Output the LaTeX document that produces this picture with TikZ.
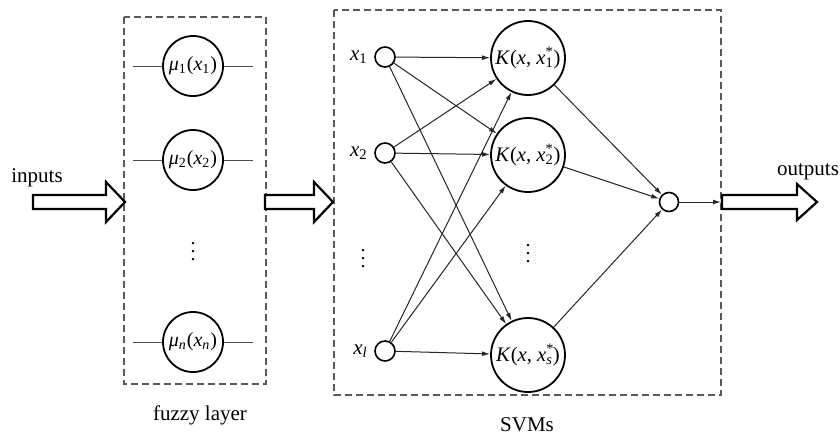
\documentclass[tikz,border=0pt]{standalone}
\usepackage{fontspec}
\setmainfont{Liberation Serif}
\usetikzlibrary{arrows.meta,positioning}
\newcommand{\xsup}[2]{\textit{x}\makebox[0pt][l]{\textsuperscript{#1}}\textsubscript{#2}}
\tikzset{
  px/.style={x=0.5pt,y=-0.5pt},
  layerbox/.style={draw=black!65,dashed,dash pattern=on 3.5pt off 2pt,line width=0.55pt},
  fuzzynode/.style={circle,draw,fill=white,line width=0.9pt,minimum size=30pt,inner sep=0pt,font=\fontsize{10}{12}\selectfont},
  kernelnode/.style={circle,draw,fill=white,line width=0.9pt,minimum size=37pt,inner sep=0pt,font=\fontsize{10.3}{12}\selectfont},
  inputnode/.style={circle,draw,fill=white,line width=0.8pt,minimum size=10pt,inner sep=0pt},
  sumnode/.style={circle,draw,fill=white,line width=0.8pt,minimum size=9.5pt,inner sep=0pt},
  wire/.style={draw=black!70,line width=0.5pt},
  link/.style={draw=black!85,line width=0.5pt,-{Latex[length=4pt,width=2.4pt]}},
  caption/.style={font=\fontsize{10.5}{12}\selectfont,inner sep=0pt},
  vdots/.style={font=\fontsize{10}{12}\selectfont,inner sep=0pt},
  bigarrow/.style={draw,line width=1.1pt,fill=white,line join=miter},
}
\begin{document}
\begin{tikzpicture}[px]
\useasboundingbox (0,0) rectangle (840,435);

% layer frames
\draw[layerbox] (124,17) rectangle (266,384);
\draw[layerbox] (334,10) rectangle (721,395);

% fuzzy layer
\foreach \y in {66,160,342} \draw[wire] (133,\y) -- (253,\y);
\node[fuzzynode] (m1) at (193,66) {\textit{μ}\textsubscript{1}(\textit{x}\textsubscript{1})};
\node[fuzzynode] (m2) at (193,160) {\textit{μ}\textsubscript{2}(\textit{x}\textsubscript{2})};
\node[fuzzynode] (mn) at (193,342) {\textit{μ\textsubscript{n}}(\textit{x\textsubscript{n}})};
\node[vdots] (mdots) at (193,246) {$\vdots$};
\node[caption] (flabel) at (200,415) {fuzzy layer};

% SVM inputs
\node[inputnode] (x1) at (385,57) {};
\node[inputnode] (x2) at (385,153) {};
\node[inputnode] (xl) at (385,351) {};
\node[caption,left=3pt of x1] (x1l) {\textit{x}\textsubscript{1}};
\node[caption,left=3pt of x2] (x2l) {\textit{x}\textsubscript{2}};
\node[caption,left=3pt of xl] (xll) {\textit{x\textsubscript{l}}};
\node[vdots] (xdots) at (363,253) {$\vdots$};

% kernel nodes
\node[kernelnode] (k1) at (528,58) {\textit{K}(\textit{x}, \xsup{*}{1})};
\node[kernelnode] (k2) at (528,155) {\textit{K}(\textit{x}, \xsup{*}{2})};
\node[kernelnode] (ks) at (528,355) {\textit{K}(\textit{x}, \xsup{*}{\textit{s}})};
\node[vdots] (kdots) at (528,248) {$\vdots$};

% summation node
\node[sumnode] (out) at (669,202) {};
\coordinate (outend) at (721,202);

% connections
\foreach \a in {x1,x2,xl}
  \foreach \b in {k1,k2,ks}
    \draw[link] (\a) -- (\b);
\foreach \b in {k1,k2,ks} \draw[link] (\b) -- (out);
\draw[link] (out) -- (outend);

% block arrows
\draw[bigarrow] (33,195) -- (106,195) -- (106,182) -- (125,202) -- (106,222) -- (106,209) -- (33,209) -- cycle;
\draw[bigarrow] (265,195) -- (314,195) -- (314,182) -- (333,202) -- (314,222) -- (314,209) -- (265,209) -- cycle;
\draw[bigarrow] (722,195) -- (797,195) -- (797,184) -- (817,202) -- (797,220) -- (797,209) -- (722,209) -- cycle;

% captions
\node[caption] (inl) at (37,178) {inputs};
\node[caption] (outl) at (808,172) {outputs};
\node[caption] (slabel) at (527,425) {SVMs};
\end{tikzpicture}
\end{document}
